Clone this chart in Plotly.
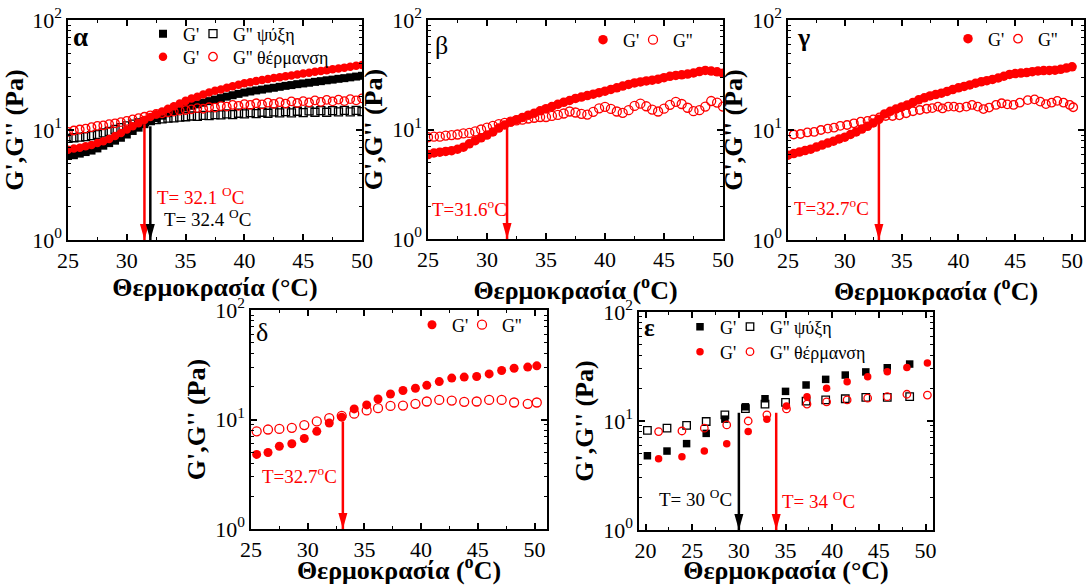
import plotly.graph_objects as go

W, H = 1086, 585
FONT = "Liberation Serif"
RED = "#FF0000"
BLACK = "#000000"

# ---------------- data ----------------
T_HALF = [25.0, 25.5, 26.0, 26.5, 27.0, 27.5, 28.0, 28.5, 29.0, 29.5, 30.0, 30.5, 31.0,
          31.5, 32.0, 32.5, 33.0, 33.5, 34.0, 34.5, 35.0, 35.5, 36.0, 36.5, 37.0, 37.5,
          38.0, 38.5, 39.0, 39.5, 40.0, 40.5, 41.0, 41.5, 42.0, 42.5, 43.0, 43.5, 44.0,
          44.5, 45.0, 45.5, 46.0, 46.5, 47.0, 47.5, 48.0, 48.5, 49.0, 49.5, 50.0]

# panel alpha
A_G1_COOL = [5.8, 5.9, 6.1, 6.3, 6.5, 6.8, 7.2, 7.6, 8.0, 8.5, 9.1, 9.8, 10.5, 11.3, 12.1,
             12.8, 13.5, 14.2, 14.8, 15.4, 16.0, 16.6, 17.1, 17.7, 18.3, 18.9, 19.5, 20.1,
             20.7, 21.3, 21.9, 22.4, 22.9, 23.3, 23.8, 24.2, 24.7, 25.2, 25.6, 26.1, 26.5,
             26.9, 27.4, 27.8, 28.3, 28.7, 29.2, 29.6, 30.1, 30.6, 31.1]
A_G2_COOL = [8.4, 8.5, 8.6, 8.7, 8.9, 9.1, 9.4, 9.7, 10.1, 10.5, 10.9, 11.3, 11.6, 11.9, 12.2,
             12.4, 12.6, 12.8, 12.9, 13.1, 13.2, 13.4, 13.3, 13.6, 13.5, 13.8, 13.7, 14.0,
             13.8, 14.2, 14.0, 14.4, 14.1, 14.5, 14.2, 14.6, 14.3, 14.7, 14.3, 14.8, 14.4,
             14.9, 14.5, 15.0, 14.5, 15.0, 14.6, 15.1, 14.6, 15.1, 14.7]
A_G1_HEAT = [6.6, 6.8, 6.9, 7.1, 7.3, 7.6, 7.9, 8.3, 8.8, 9.4, 10.1, 10.8, 11.5, 12.3, 13.1,
             13.9, 14.7, 15.6, 16.4, 17.4, 18.4, 19.3, 20.1, 21.0, 21.9, 22.7, 23.4, 24.2,
             25.0, 25.8, 26.6, 27.2, 27.9, 28.5, 29.1, 29.7, 30.2, 30.8, 31.3, 31.9, 32.6,
             33.2, 33.9, 34.4, 35.0, 35.6, 36.3, 36.9, 37.6, 38.3, 38.9]
A_G2_HEAT = [9.6, 9.9, 10.1, 10.3, 10.6, 10.9, 11.0, 11.3, 11.5, 11.8, 12.1, 12.5, 12.8, 13.2,
             13.6, 14.0, 14.2, 14.5, 14.7, 15.0, 15.2, 15.4, 15.8, 15.6, 16.1, 16.0, 16.5,
             16.3, 16.9, 16.6, 17.2, 16.9, 17.5, 17.1, 17.7, 17.3, 17.9, 17.4, 18.2, 17.6,
             18.3, 17.8, 18.6, 18.0, 18.8, 18.2, 18.9, 18.3, 19.1, 18.6, 19.4]

# panel beta
B_G1 = [5.9, 6.1, 6.2, 6.3, 6.4, 6.6, 6.9, 7.4, 7.9, 8.4, 8.9, 9.5, 10.3, 11.0, 11.7, 12.3,
        12.9, 13.5, 14.1, 14.8, 15.5, 16.2, 17.0, 17.7, 18.4, 19.2, 19.8, 20.4, 21.0, 21.7,
        22.4, 23.2, 24.0, 24.9, 25.8, 26.6, 27.2, 27.8, 28.2, 28.8, 29.7, 30.6, 31.2, 31.6,
        32.1, 32.8, 33.8, 34.6, 34.2, 33.6, 32.6]
B_G2 = [8.5, 8.6, 8.6, 8.8, 8.9, 9.0, 9.2, 9.3, 9.6, 10.0, 10.4, 10.8, 11.2, 11.5, 11.8, 12.1,
        12.3, 12.6, 12.8, 13.0, 13.0, 13.3, 13.6, 14.0, 14.6, 14.3, 13.9, 13.7, 14.5, 15.6,
        16.1, 15.4, 14.6, 14.2, 15.0, 16.4, 17.2, 16.3, 15.2, 14.6, 15.5, 16.8, 17.9, 17.1,
        15.8, 14.7, 15.0, 16.2, 18.2, 17.6, 16.2]

# panel gamma
C_G1 = [5.9, 6.1, 6.3, 6.5, 6.7, 7.0, 7.3, 7.6, 7.9, 8.3, 8.6, 9.1, 9.6, 10.2, 10.8, 11.6,
        12.5, 14.0, 14.8, 15.5, 16.2, 16.9, 17.8, 18.8, 19.6, 20.4, 21.0, 21.6, 22.4, 23.3,
        24.2, 24.9, 25.7, 26.6, 27.4, 28.1, 28.8, 29.7, 30.8, 32.0, 32.6, 32.9, 33.3, 33.9,
        34.4, 34.7, 34.8, 35.0, 35.6, 36.6, 37.5]
C_T2 = [25.5, 26.1, 26.7, 27.3, 27.9, 28.5, 29.05, 29.6, 30.2, 30.8, 31.4, 32.0, 32.5, 33.05,
        33.6, 34.2, 34.8, 35.4, 36.0, 36.6, 37.2, 37.7, 38.2, 38.6, 39.1, 39.6, 40.1, 40.7,
        41.2, 41.7, 42.2, 42.7, 43.3, 43.8, 44.3, 44.85, 45.4, 46.1, 46.7, 47.2, 47.7, 48.2,
        48.7, 49.25, 49.8, 50.1]
C_G2 = [9.1, 9.2, 9.5, 9.6, 10.0, 10.3, 10.5, 10.9, 11.1, 11.5, 11.9, 12.1, 12.5, 13.0, 13.4,
        13.4, 13.6, 14.2, 14.8, 15.2, 15.6, 15.8, 16.3, 15.7, 16.3, 16.3, 16.0, 16.3, 16.9,
        16.3, 15.5, 16.0, 16.9, 17.5, 17.1, 16.9, 17.7, 18.7, 19.0, 18.1, 17.2, 17.7, 18.4,
        17.7, 16.9, 16.1]

# panel delta
D_T = [25.5, 26.5, 27.5, 28.6, 29.7, 30.8, 31.9, 33.0, 34.1, 35.2, 36.2, 37.3, 38.4, 39.5,
       40.5, 41.6, 42.7, 43.8, 44.9, 46.0, 47.1, 48.2, 49.4, 50.2]
D_G1 = [4.8, 5.0, 5.7, 6.0, 6.7, 7.8, 9.3, 10.5, 12.5, 13.6, 15.4, 17.1, 18.4, 19.3, 20.5,
        22.2, 23.9, 24.4, 24.7, 26.1, 28.0, 29.4, 30.1, 30.9]
D_G2 = [7.8, 8.1, 8.2, 8.4, 8.9, 9.6, 10.3, 10.8, 11.3, 12.1, 12.7, 13.3, 13.4, 13.9, 14.6,
        15.1, 14.9, 14.5, 14.6, 15.1, 15.1, 14.3, 13.9, 14.3]

# panel epsilon
E_T_COOL = [20.2, 22.3, 24.4, 26.5, 28.5, 30.7, 32.8, 35.0, 37.2, 39.3, 41.4, 43.6, 45.9, 48.3]
E_G1_COOL = [4.8, 5.3, 6.2, 7.7, 10.4, 13.5, 16.0, 18.7, 21.4, 24.1, 26.4, 28.2, 30.8, 33.3]
E_G2_COOL = [8.2, 8.6, 9.1, 9.9, 11.4, 13.0, 14.3, 14.8, 15.2, 15.6, 16.0, 16.5, 16.5, 16.7]
E_T_HEAT = [21.4, 23.9, 26.3, 28.7, 31.0, 33.0, 35.1, 37.3, 39.4, 41.6, 43.8, 45.9, 48.0, 50.2]
E_G1_HEAT = [4.5, 4.7, 5.3, 6.2, 8.0, 10.4, 13.7, 16.7, 20.0, 22.9, 25.5, 28.3, 31.0, 34.0]
E_G2_HEAT = [8.0, 8.1, 8.6, 9.2, 10.0, 11.4, 12.9, 14.3, 15.0, 15.6, 16.2, 16.7, 17.6, 17.3]

# transition temperatures marked by arrows: (panel, T, start value, colour)
ARROWS = [("", 31.5, 11.3, RED), ("", 32.0, 10.8, BLACK), ("2", 31.7, 10.3, RED),
          ("3", 33.0, 12.3, RED), ("4", 33.1, 9.6, RED), ("5", 30.0, 11.9, BLACK),
          ("5", 34.0, 11.9, RED)]

Y_TICKS = [1, 10, 100]
Y_TICKTEXT = ["10<sup>0</sup>", "10<sup>1</sup>", "10<sup>2</sup>"]
NAME_G1 = "G'"
NAME_G2 = "G''"
COOL = "G'' ψύξη"
HEAT = "G'' θέρμανση"

# ---------------- figure ----------------
fig = go.Figure()


def add(x, y, ax, name, symbol, color, size, legend, open_=False):
    fig.add_trace(go.Scatter(
        x=x, y=y, mode="markers", name=name, xaxis="x" + ax, yaxis="y" + ax,
        legend=legend, showlegend=True, hoverinfo="skip",
        legendwidth=None if open_ else 5,
        marker=dict(symbol=symbol, color=color, size=size,
                    line=dict(width=1.3 if open_ else 0, color=color))))


add(T_HALF, A_G1_COOL, "", NAME_G1, "square", BLACK, 8, "legend")
add(T_HALF, A_G2_COOL, "", COOL, "square-open", BLACK, 8, "legend", True)
add(T_HALF, A_G1_HEAT, "", NAME_G1, "circle", RED, 8.5, "legend2")
add(T_HALF, A_G2_HEAT, "", HEAT, "circle-open", RED, 8.5, "legend2", True)

add(T_HALF, B_G1, "2", NAME_G1, "circle", RED, 9.5, "legend3")
add(T_HALF, B_G2, "2", NAME_G2, "circle-open", RED, 9, "legend3", True)

add(T_HALF, C_G1, "3", NAME_G1, "circle", RED, 9.5, "legend4")
add(C_T2, C_G2, "3", NAME_G2, "circle-open", RED, 8.5, "legend4", True)

add(D_T, D_G1, "4", NAME_G1, "circle", RED, 9, "legend5")
add(D_T, D_G2, "4", NAME_G2, "circle-open", RED, 9, "legend5", True)

add(E_T_COOL, E_G1_COOL, "5", NAME_G1, "square", BLACK, 7.5, "legend6")
add(E_T_COOL, E_G2_COOL, "5", COOL, "square-open", BLACK, 7.5, "legend6", True)
add(E_T_HEAT, E_G1_HEAT, "5", NAME_G1, "circle", RED, 7.5, "legend7")
add(E_T_HEAT, E_G2_HEAT, "5", HEAT, "circle-open", RED, 7.5, "legend7", True)

TITLE_X1 = "Θερμοκρασία (°C)"
TITLE_X2 = "Θερμοκρασία (<sup>o</sup>C)"
TITLE_Y = "G',G'' (Pa)"

# panel boxes in pixels: (x-left, x-right, y-top, y-bottom), x range, first tick
PANELS = {
    "": ((68, 362, 20, 240), [25, 50], 25, TITLE_X1),
    "2": ((428, 723, 20, 239), [25, 50], 25, TITLE_X2),
    "3": ((788, 1084, 20, 240), [25, 51.05], 25, TITLE_X2),
    "4": ((251, 547, 310, 529), [25, 51.1], 25, TITLE_X2),
    "5": ((639, 933, 312, 530), [19.3, 50.8], 20, TITLE_X1),
}

tickfont = dict(family=FONT, size=22, color="black")
titlefont = dict(family=FONT, size=26, color="black", weight="bold")

layout = dict(width=W, height=H, margin=dict(l=0, r=0, t=0, b=0),
              paper_bgcolor="white", plot_bgcolor="white", hovermode=False)

for ax, (box, xr, t0, xtitle) in PANELS.items():
    l, r, t, b = box
    layout["xaxis" + ax] = dict(
        domain=[l / W, r / W], range=xr, anchor="y" + ax, tickmode="linear", tick0=t0,
        dtick=5, ticks="inside", ticklen=6, tickwidth=1.5, tickcolor="black",
        showline=True, linewidth=1.5, linecolor="black", mirror="ticks",
        showgrid=False, zeroline=False, tickfont=tickfont, automargin=False,
        minor=dict(ticks="inside", ticklen=3.5, tickwidth=1, tickcolor="black",
                   tickmode="linear", tick0=t0, dtick=2.5, showgrid=False),
        title=dict(text=xtitle, font=titlefont, standoff=3))
    layout["yaxis" + ax] = dict(
        domain=[1 - b / H, 1 - t / H], type="log", range=[0, 2], anchor="x" + ax,
        tickmode="array", tickvals=Y_TICKS, ticktext=Y_TICKTEXT,
        ticks="inside", ticklen=6, tickwidth=1.5, tickcolor="black",
        showline=True, linewidth=1.5, linecolor="black", mirror="ticks",
        showgrid=False, zeroline=False, tickfont=tickfont, automargin=False,
        minor=dict(ticks="inside", ticklen=3.5, tickwidth=1, tickcolor="black",
                   tickmode="linear", dtick="D1", showgrid=False),
        title=dict(text=TITLE_Y, font=titlefont, standoff=2))

# legends: symbol centre positions in pixels
LEG_OFF = 20
LEGENDS = {"legend": (163, 34), "legend2": (163, 57), "legend3": (603, 40),
           "legend4": (968, 39), "legend5": (432, 325), "legend6": (700, 327),
           "legend7": (700, 352)}
for key, (sx, sy) in LEGENDS.items():
    layout[key] = dict(x=(sx - LEG_OFF) / W, y=1 - sy / H, xanchor="left", yanchor="middle",
                       orientation="h", bgcolor="rgba(0,0,0,0)", borderwidth=0,
                       font=dict(family=FONT, size=18, color="black"))

fig.update_layout(**layout)


def ann(text, xpx, ypx, color=BLACK, size=19, bold=False):
    fig.add_annotation(text=text, x=xpx / W, y=1 - ypx / H, xref="paper", yref="paper",
                       xanchor="left", yanchor="middle", showarrow=False,
                       font=dict(family=FONT, size=size, color=color,
                                 weight="bold" if bold else "normal"))


# panel letters
ann("α", 71, 37, size=27, bold=True)
ann("β", 433, 46, size=26)
ann("γ", 795, 37, size=26, bold=True)
ann("δ", 254, 332, size=26)
ann("ε", 642, 327, size=25, bold=True)

# transition temperature labels
ann("T= 32.1 <sup>O</sup>C", 155, 196, RED)
ann("T= 32.4 <sup>O</sup>C", 162, 218, BLACK)
ann("T=31.6<sup>o</sup>C", 430, 208, RED)
ann("T=32.7<sup>o</sup>C", 792, 207, RED)
ann("T=32.7<sup>o</sup>C", 260, 475, RED)
ann("T= 30 <sup>O</sup>C", 657, 498, BLACK)
ann("T= 34 <sup>O</sup>C", 780, 500, RED)

# arrows: shaft + narrow head
for ax, tx, start, col in ARROWS:
    fig.add_shape(type="line", xref="x" + ax, yref="y" + ax, x0=tx, x1=tx, y0=start, y1=1.0,
                  line=dict(color=col, width=2.5))
    fig.add_shape(type="path", xref="x" + ax, yref="y" + ax, xsizemode="pixel",
                  ysizemode="pixel", xanchor=tx, yanchor=1.0,
                  path="M0,0 L-4.5,16 L4.5,16 Z", fillcolor=col, line=dict(width=0))

fig.write_html("out.html", config={"displayModeBar": False},
               post_script="document.body.style.margin='0';"
                           "document.body.style.overflow='hidden';")
